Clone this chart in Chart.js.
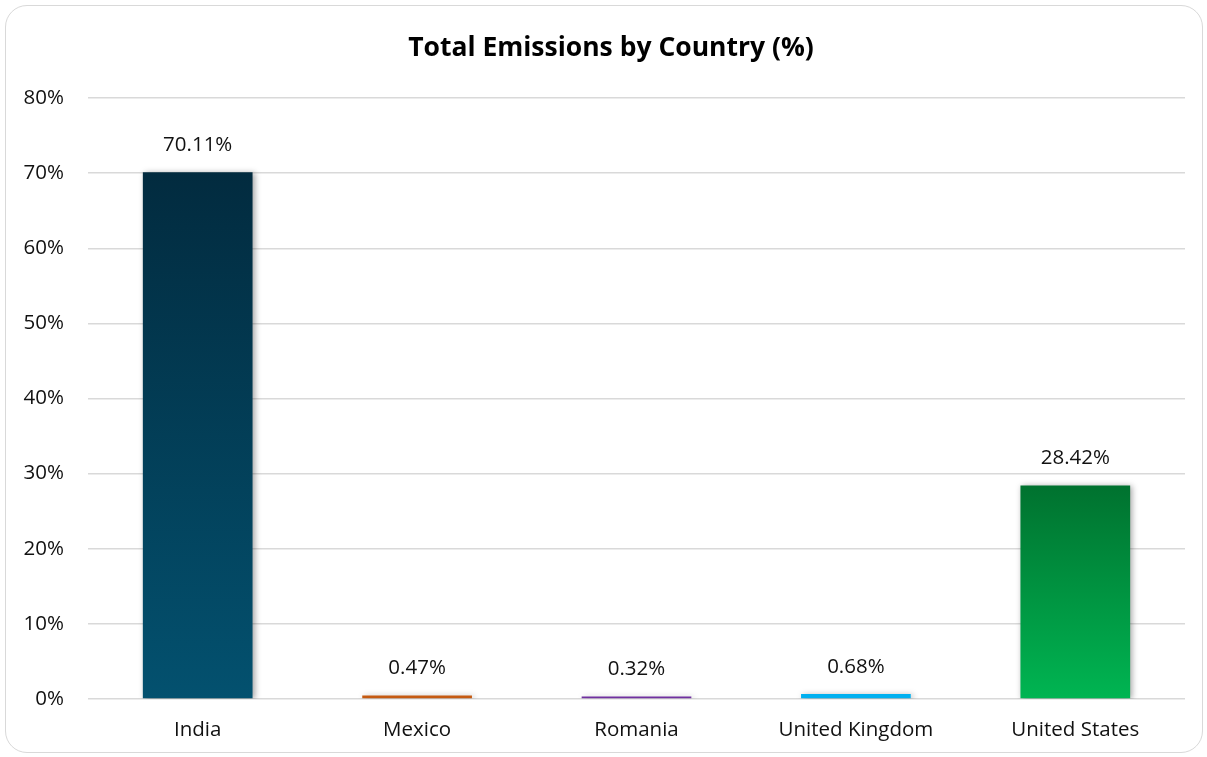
<!DOCTYPE html>
<html>
<head>
<meta charset="utf-8">
<script src="https://cdn.jsdelivr.net/npm/chart.js@4.4.1/dist/chart.umd.min.js"></script>
<style>
    html, body { margin: 0; padding: 0; background: #fff; }
    #frame {
        position: absolute; left: 5px; top: 5px; width: 1198px; height: 748px;
        border: 1px solid #d9d9d9; border-radius: 22px; box-sizing: border-box;
    }
    #wrap { position: absolute; left: 0; top: 0; width: 1207px; height: 757px; }
</style>
</head>
<body>
<div id="frame"></div>
<div id="wrap"><canvas id="chart"></canvas></div>
<script>
const countries = ['India', 'Mexico', 'Romania', 'United Kingdom', 'United States'];
const shares = [70.11, 0.47, 0.32, 0.68, 28.42];
const topColors = ['#022b3f', '#c55a11', '#7030a0', '#00b0f0', '#00722f'];
const bottomColors = ['#03516f', '#c55a11', '#7030a0', '#00b0f0', '#00b552'];
const yTicks = [0, 10, 20, 30, 40, 50, 60, 70, 80];
const chartTitle = 'Total Emissions by Country (%)';

const FONT = '"Open Sans", "Noto Sans", sans-serif';
const TEXT = '#111';

// vertical gradient per bar, from its top down to the zero line
function barFill(ctx){
    const chart = ctx.chart;
    const area = chart.chartArea;
    if(!area) return topColors[ctx.dataIndex];
    const y = chart.scales.y;
    const g = chart.ctx.createLinearGradient(0, y.getPixelForValue(shares[ctx.dataIndex]), 0, y.getPixelForValue(0));
    g.addColorStop(0, topColors[ctx.dataIndex]);
    g.addColorStop(1, bottomColors[ctx.dataIndex]);
    return g;
}

const barShadow = {
    id: 'barShadow',
    beforeDatasetDraw(chart){
        const c = chart.ctx;
        c.save();
        c.shadowColor = 'rgba(0,0,0,0.35)';
        c.shadowBlur = 6;
        c.shadowOffsetX = 2;
        c.shadowOffsetY = 1;
    },
    afterDatasetDraw(chart){
        chart.ctx.restore();
    }
};

// value above each bar + the heading (not centred on the plot, so drawn by hand)
const valueLabels = {
    id: 'valueLabels',
    afterDatasetsDraw(chart){
        const c = chart.ctx;
        const meta = chart.getDatasetMeta(0);
        c.save();
        c.font = '20.5px ' + FONT;
        c.fillStyle = TEXT;
        c.textAlign = 'center';
        c.textBaseline = 'middle';
        meta.data.forEach((bar, i) => {
            c.fillText(shares[i].toFixed(2) + '%', bar.x, bar.y - 27);
        });
        c.font = 'bold 26.5px ' + FONT;
        c.fillStyle = '#000';
        c.fillText(chartTitle, 611, 48);
        c.restore();
    }
};

new Chart(document.getElementById('chart'), {
    type: 'bar',
    data: {
        labels: countries,
        datasets: [{
            data: shares,
            backgroundColor: barFill,
            borderWidth: 0,
            categoryPercentage: 1,
            barPercentage: 0.5
        }]
    },
    options: {
        responsive: true,
        maintainAspectRatio: false,
        animation: false,
        layout: { padding: { left: 0, right: 22, top: 98, bottom: 15 } },
        plugins: {
            legend: { display: false },
            tooltip: { enabled: false },
            title: { display: false }
        },
        scales: {
            x: {
                grid: { display: false, drawTicks: false },
                border: { display: false },
                ticks: { color: TEXT, font: { family: FONT, size: 20.5 }, padding: 19 },
                afterFit(s){ s.height = 43; }
            },
            y: {
                min: 0,
                max: 80,
                afterBuildTicks(s){ s.ticks = yTicks.map(v => ({ value: v })); },
                grid: { color: '#d9d9d9', lineWidth: 1.5, drawTicks: false },
                border: { display: false },
                ticks: {
                    color: TEXT,
                    font: { family: FONT, size: 20.5 },
                    padding: 24,
                    callback: v => v + '%'
                },
                afterFit(s){ s.width = 88; }
            }
        }
    },
    plugins: [barShadow, valueLabels]
});
</script>
</body>
</html>
